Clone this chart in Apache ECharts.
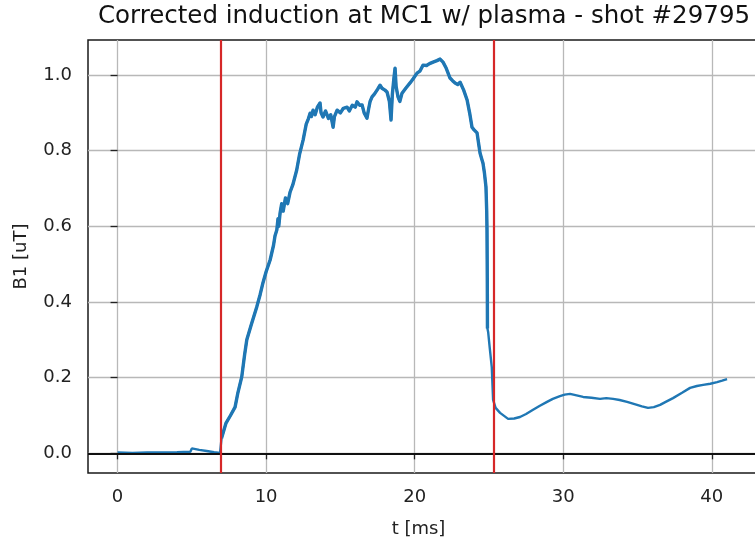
<!DOCTYPE html>
<html>
<head>
<meta charset="utf-8">
<script src="https://cdn.jsdelivr.net/npm/echarts@6/dist/echarts.min.js"></script>
<style>html,body{margin:0;padding:0;background:#fff;}#c{width:755px;height:540px;}</style>
</head>
<body>
<div id="c"></div>
<script>
var titleText = 'Corrected induction at MC1 w/ plasma - shot #29795';
var xTicks = [0, 10, 20, 30, 40];
var yTicks = [0.0, 0.2, 0.4, 0.6, 0.8, 1.0];
var markerTimes = [6.93, 25.35];
var t_ms = [0,1,2,3,4,4.9,5.0,5.1,5.5,6.0,6.5,6.9,
  7.0,7.3,7.6,7.91,8.1,8.36,8.55,8.7,9.0,9.37,9.6,9.79,10.0,10.27,10.5,10.6,10.72,10.8,10.85,10.94,11.05,11.15,11.3,11.45,11.61,11.8,12.06,12.25,12.49,12.7,12.85,12.96,13.05,13.16,13.3,13.45,13.63,13.7,13.83,14.0,14.2,14.35,14.51,14.6,14.78,15.0,15.2,15.45,15.6,15.8,16.0,16.12,16.3,16.46,16.6,16.79,16.9,17.0,17.13,17.3,17.5,17.67,17.8,18.0,18.14,18.3,18.41,18.5,18.6,18.68,18.75,18.88,19.0,19.15,19.4,19.69,19.9,20.16,20.35,20.56,20.8,21.0,21.24,21.5,21.71,21.8,21.91,22.1,22.38,22.55,22.72,22.9,23.06,23.3,23.53,23.7,23.86,24.0,24.2,24.3,24.4,24.5,24.6,24.7,24.8,24.85,24.87,24.89,24.9,24.95,25.05,25.19,25.28,25.45,25.75,26.29,26.7,27.09,27.5,27.97,28.4,28.91,29.3,29.78,30.1,30.46,30.9,31.34,31.9,32.48,32.9,33.36,33.8,34.3,34.97,35.3,35.71,36.1,36.52,36.9,37.39,38.0,38.54,39.0,39.42,39.9,40.36,40.7,41.03];
var b1_uT = [0.002,0.001,0.002,0.002,0.003,0.004,0.013,0.010,0.009,0.006,0.003,0.001,
  0.04,0.08,0.10,0.122,0.16,0.202,0.26,0.30,0.34,0.387,0.42,0.451,0.48,0.511,0.55,0.575,0.59,0.62,0.60,0.635,0.66,0.64,0.675,0.66,0.69,0.71,0.749,0.79,0.828,0.87,0.885,0.899,0.89,0.907,0.895,0.915,0.926,0.90,0.889,0.905,0.885,0.895,0.862,0.89,0.907,0.90,0.912,0.915,0.905,0.92,0.915,0.929,0.92,0.921,0.90,0.886,0.91,0.93,0.942,0.95,0.962,0.973,0.965,0.96,0.955,0.93,0.881,0.95,0.99,1.018,0.97,0.942,0.93,0.952,0.965,0.979,0.99,1.005,1.01,1.026,1.025,1.03,1.034,1.038,1.042,1.045,1.034,1.02,0.992,0.985,0.979,0.975,0.981,0.96,0.934,0.90,0.862,0.855,0.847,0.82,0.794,0.78,0.767,0.74,0.704,0.64,0.59,0.45,0.33,0.32,0.28,0.228,0.141,0.12,0.107,0.091,0.092,0.096,0.104,0.115,0.125,0.136,0.144,0.151,0.155,0.157,0.153,0.149,0.147,0.144,0.146,0.144,0.141,0.136,0.128,0.124,0.120,0.122,0.128,0.136,0.146,0.16,0.173,0.178,0.181,0.184,0.188,0.192,0.196];

var pts = t_ms.map(function (t, i) { return [t, b1_uT[i]]; });
// noisy part of the signal (drawn slightly thicker, as in the reference)
var noisy = pts.filter(function (p) { return p[0] >= 7.0 && p[0] <= 24.9; });
var FONT = 'DejaVu Sans';
var chart = echarts.init(document.getElementById('c'), null, {renderer: 'canvas'});
chart.setOption({
  animation: false,
  backgroundColor: '#ffffff',
  title: {
    text: titleText, left: 424, top: 4, textAlign: 'center', padding: 0,
    textStyle: {fontFamily: FONT, fontSize: 24.5, fontWeight: 'normal', color: '#111'}
  },
  grid: {left: 88, top: 40, width: 685, height: 433, show: true, borderColor: '#1a1a1a', borderWidth: 1.5,
    backgroundColor: 'transparent', containLabel: false, outerBoundsMode: 'none'},
  xAxis: {
    type: 'value', min: -1.99, max: -1.99 + 685 / 14.855,
    name: 't [ms]', nameLocation: 'middle', nameGap: 47,
    nameTextStyle: {fontFamily: FONT, fontSize: 18, color: '#222', padding: [0, 24, 0, 0]},
    axisLine: {show: false},
    axisTick: {show: true, inside: false, length: 6, lineStyle: {color: '#222', width: 1.3}, customValues: xTicks},
    axisLabel: {fontFamily: FONT, fontSize: 18, color: '#222', margin: 15, customValues: xTicks,
      formatter: function (v) { return String(v); }},
    splitLine: {show: true, lineStyle: {color: '#b8b8b8', width: 1.3}}
  },
  yAxis: {
    type: 'value', min: -0.052, max: 1.0925,
    name: 'B1 [uT]', nameLocation: 'middle', nameGap: 58,
    nameTextStyle: {fontFamily: FONT, fontSize: 18, color: '#222'},
    axisLine: {show: false},
    axisTick: {show: true, inside: false, length: 7, lineStyle: {color: '#222', width: 1.3}, customValues: yTicks},
    axisLabel: {fontFamily: FONT, fontSize: 18, color: '#222', margin: 16, customValues: yTicks,
      formatter: function (v) { return v.toFixed(1); }},
    splitLine: {show: true, lineStyle: {color: '#b8b8b8', width: 1.3}}
  },
  series: [
    {
      type: 'line', data: pts, showSymbol: false, symbol: 'none', z: 2,
      lineStyle: {color: '#1f77b4', width: 2.4}, clip: true
    },
    {
      type: 'line', data: noisy, showSymbol: false, symbol: 'none', z: 2,
      lineStyle: {color: '#1f77b4', width: 3.4, join: 'round'}, clip: true
    },
    {
      type: 'line', data: [], z: 5, symbol: 'none',
      markLine: {
        silent: true, symbol: ['none', 'none'], animation: false,
        label: {show: false},
        data: [
          {yAxis: 0, lineStyle: {color: '#111', width: 2.2, type: 'solid'}},
          {xAxis: markerTimes[0], lineStyle: {color: '#d62728', width: 2.2, type: 'solid'}},
          {xAxis: markerTimes[1], lineStyle: {color: '#d62728', width: 2.2, type: 'solid'}}
        ]
      }
    }
  ]
});
</script>
</body>
</html>
